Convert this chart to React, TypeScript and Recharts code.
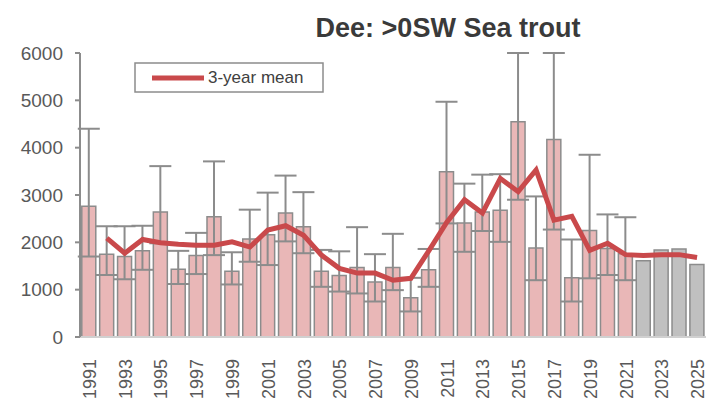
import React from "react";
import { ComposedChart, Bar, Line, XAxis, YAxis, ErrorBar, Cell } from "recharts";

const years = [
  "1991", "1992", "1993", "1994", "1995", "1996", "1997", "1998", "1999", "2000",
  "2001", "2002", "2003", "2004", "2005", "2006", "2007", "2008", "2009", "2010",
  "2011", "2012", "2013", "2014", "2015", "2016", "2017", "2018", "2019", "2020",
  "2021", "2022", "2023", "2024", "2025",
];

// annual estimate
const counts = [
  2760, 1750, 1700, 1820, 2640, 1430, 1720, 2540, 1390, 2070,
  2160, 2620, 2330, 1390, 1300, 1470, 1160, 1470, 830, 1420,
  3490, 2410, 2640, 2680, 4550, 1880, 4170, 1250, 2250, 1870,
  1760, 1610, 1840, 1860, 1530,
];

// confidence limits (none for the projected years)
const lower = [
  1700, 1310, 1220, 1420, 1980, 1120, 1330, 1730, 1110, 1590,
  1520, 2020, 1770, 1060, 960, 920, 750, 990, 540, 1060,
  2400, 1800, 2240, 2010, 2900, 1200, 2270, 750, 1240, 1310,
  1200, null, null, null, null,
];
const upper = [
  4400, 2340, 2340, 2350, 3610, 1820, 2200, 3710, 1790, 2690,
  3050, 3410, 3060, 1840, 1810, 2320, 1750, 2180, 1250, 1860,
  4970, 3240, 3430, 3440, 6000, 2970, 6000, 2060, 3850, 2590,
  2530, null, null, null, null,
];

const mean3 = [
  null, 2090, 1770, 2060, 1990, 1960, 1940, 1940, 2010, 1900,
  2260, 2350, 2150, 1730, 1450, 1350, 1350, 1200, 1240, 1820,
  2420, 2900, 2620, 3350, 3070, 3530, 2470, 2550, 1830, 1980,
  1740, 1720, 1740, 1740, 1680,
];

const yTicks = [0, 1000, 2000, 3000, 4000, 5000, 6000];
const firstProjected = "2022";

const data = years.map((year, i) => ({
  year,
  count: counts[i],
  err:
    lower[i] == null || upper[i] == null
      ? null
      : [counts[i] - (lower[i] as number), (upper[i] as number) - counts[i]],
  mean: mean3[i],
}));

const font = "'Liberation Sans', Arial, sans-serif";

const YearTick = (props: any) => {
  const { x, y, payload } = props;
  return (
    <text
      x={x + 7}
      y={y + 14}
      transform={`rotate(-90 ${x + 7} ${y + 14})`}
      textAnchor="end"
      fontSize={18}
      fontFamily={font}
      fill="#595959"
    >
      {payload.value}
    </text>
  );
};

export default function App() {
  return (
    <div style={{ position: "absolute", left: 0, top: 0, width: 719, height: 403, background: "#fff" }}>
      <ComposedChart
        width={719}
        height={403}
        data={data}
        margin={{ top: 53, right: 13, bottom: 6, left: 0 }}
        barCategoryGap="10%"
      >
        <XAxis
          dataKey="year"
          interval={1}
          tickLine={false}
          axisLine={{ stroke: "#d0d0d0", strokeWidth: 2 }}
          height={60}
          tick={<YearTick />}
        />
        <YAxis
          width={80}
          domain={[0, 6000]}
          ticks={yTicks}
          allowDataOverflow
          tickSize={5}
          tickMargin={12}
          axisLine={{ stroke: "#8c8c8c", strokeWidth: 2 }}
          tickLine={{ stroke: "#8c8c8c", strokeWidth: 2 }}
          tick={{ fontSize: 19, fontFamily: font, fill: "#595959" }}
        />
        <Bar dataKey="count" stroke="#8c8c8c" strokeWidth={1.5} isAnimationActive={false}>
          {data.map((d) => (
            <Cell key={d.year} fill={d.year >= firstProjected ? "#c0c0c0" : "#e9b7b7"} />
          ))}
          <ErrorBar dataKey="err" direction="y" width={11} stroke="#8c8c8c" strokeWidth={2} />
        </Bar>
        <Line
          dataKey="mean"
          type="linear"
          stroke="#c9494b"
          strokeWidth={5}
          dot={false}
          activeDot={false}
          isAnimationActive={false}
        />
      </ComposedChart>
      <svg
        width={719}
        height={403}
        style={{ position: "absolute", left: 0, top: 0, pointerEvents: "none" }}
      >
        <text x={448} y={37} textAnchor="middle" fontSize={27} fontWeight="bold" fontFamily={font} fill="#3a3a3a">
          Dee: &gt;0SW Sea trout
        </text>
        <rect x={135} y={63} width={188} height={29} fill="#fff" stroke="#8c8c8c" strokeWidth={1.5} />
        <line x1={152} y1={78} x2={204} y2={78} stroke="#c9494b" strokeWidth={5} />
        <text x={208} y={83} fontSize={17} fontFamily={font} fill="#404040">
          3-year mean
        </text>
      </svg>
    </div>
  );
}
